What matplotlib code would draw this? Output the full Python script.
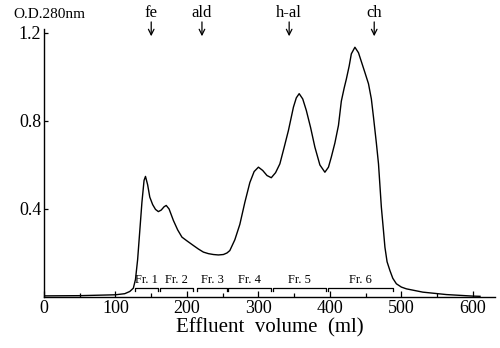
import matplotlib
matplotlib.use("Agg")
import matplotlib.pyplot as plt
from matplotlib.ticker import MultipleLocator

plt.rcParams['font.family'] = ['Liberation Serif', 'DejaVu Serif']

volume = [0, 50, 100, 113, 120, 125, 128, 131, 134, 137, 140, 142, 145, 148, 152, 156,
          160, 164, 168, 171, 175, 181, 187, 193, 200, 209, 216, 223, 230, 237, 244,
          251, 256, 260, 267, 274, 281, 288, 294, 300, 306, 312, 318, 324, 330, 336,
          342, 349, 353, 357, 362, 367, 373, 379, 386, 393, 398, 402, 407, 412, 416,
          420, 423, 427, 430, 435, 440, 445, 449, 454, 458, 461, 465, 468, 472, 475, 477,
          480, 484, 488, 493, 500, 507, 530, 563, 600, 610]
od280 = [0.005, 0.006, 0.010, 0.015, 0.025, 0.040, 0.080, 0.170, 0.300, 0.430, 0.530,
         0.548, 0.510, 0.454, 0.420, 0.398, 0.388, 0.395, 0.410, 0.416, 0.400, 0.348,
         0.305, 0.272, 0.255, 0.234, 0.218, 0.204, 0.197, 0.193, 0.191, 0.193, 0.200,
         0.211, 0.260, 0.330, 0.430, 0.520, 0.570, 0.590, 0.575, 0.552, 0.542, 0.565,
         0.605, 0.680, 0.757, 0.863, 0.905, 0.924, 0.900, 0.848, 0.770, 0.681, 0.600,
         0.567, 0.590, 0.636, 0.700, 0.780, 0.890, 0.950, 0.990, 1.050, 1.105, 1.135, 1.110,
         1.060, 1.020, 0.969, 0.900, 0.817, 0.700, 0.605, 0.408, 0.300, 0.226, 0.160,
         0.120, 0.085, 0.060, 0.045, 0.037, 0.022, 0.011, 0.004, 0.003]

fractions = ["Fr. 1", "Fr. 2", "Fr. 3", "Fr. 4", "Fr. 5", "Fr. 6"]
frac_start = [127, 162, 214, 258, 320, 397]
frac_end = [160, 208, 256, 318, 394, 488]

markers = ["fe", "ald", "h-al", "ch"]
marker_pos = [150, 221, 343, 462]

fig = plt.figure(figsize=(5.0, 3.48), dpi=100)
ax = fig.add_axes([0.088, 0.1466, 0.902, 0.7714])

ax.plot(volume, od280, color='black', lw=1.0)

bracket_y = 0.04
tick_h = 0.014
for name, s, e in zip(fractions, frac_start, frac_end):
    ax.plot([s, s, e, e], [bracket_y - tick_h, bracket_y, bracket_y, bracket_y - tick_h],
            color='black', lw=0.9)
    ax.text((s + e) / 2, bracket_y + 0.012, name, ha='center', va='bottom', fontsize=9)

for name, p in zip(markers, marker_pos):
    ax.text(p, 1.29, name, ha='center', va='center', fontsize=12, clip_on=False)
    ax.annotate('', xy=(p, 1.185), xytext=(p, 1.25), xycoords='data',
                arrowprops=dict(arrowstyle='->', color='black', lw=0.9,
                                shrinkA=0, shrinkB=0),
                annotation_clip=False)

fig.text(0.026, 0.957, "O.D.280nm", ha='left', va='center', fontsize=11)

ax.set_xlim(0, 631)
ax.set_ylim(0, 1.22)
ax.xaxis.set_major_locator(MultipleLocator(100))
ax.xaxis.set_minor_locator(MultipleLocator(50))
ax.set_yticks([0.4, 0.8, 1.2])
ax.set_yticklabels(["0.4", "0.8", "1.2"])
ax.set_xticks([0, 100, 200, 300, 400, 500, 600])
ax.tick_params(axis='both', which='both', direction='in', labelsize=13, width=0.9)
ax.tick_params(axis='x', which='major', length=4, pad=2)
ax.tick_params(axis='x', which='minor', length=3)
ax.tick_params(axis='y', which='major', length=3, pad=2)
for sp in ['top', 'right']:
    ax.spines[sp].set_visible(False)
for sp in ['left', 'bottom']:
    ax.spines[sp].set_linewidth(1.0)

ax.set_xlabel("Effluent  volume  (ml)", fontsize=15, labelpad=1)

fig.savefig("out.png", dpi=100)
